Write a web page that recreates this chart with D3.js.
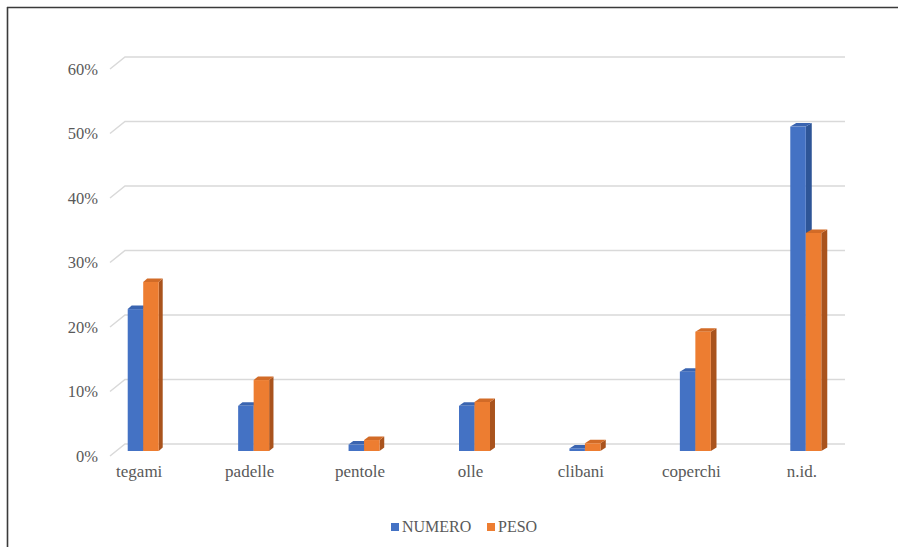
<!DOCTYPE html>
<html>
<head>
<meta charset="utf-8">
<script src="https://cdn.jsdelivr.net/npm/d3@7"></script>
<style>
  html, body { margin: 0; padding: 0; background: #fff; }
  svg { display: block; }
  text { font-family: 'Liberation Serif', 'Times New Roman', Times, 'DejaVu Serif', serif; }
</style>
</head>
<body>
<svg id="chart" width="898" height="547"></svg>
<script>
const categories = ["tegami", "padelle", "pentole", "olle", "clibani", "coperchi", "n.id."];
const seriesNames = ["NUMERO", "PESO"];
const numero = [0.22, 0.07, 0.01, 0.07, 0.004, 0.123, 0.503];
const peso = [0.262, 0.11, 0.017, 0.076, 0.012, 0.185, 0.338];
const yTicks = [0, 0.1, 0.2, 0.3, 0.4, 0.5, 0.6];

const colors = {
  NUMERO: { front: "#4472C4", side: "#2E5597", top: "#3A64B0" },
  PESO:   { front: "#ED7D31", side: "#A9531D", top: "#D26B27" }
};

const svg = d3.select("#chart");
const W = 898, H = 547;
svg.append("rect").attr("width", W).attr("height", H).attr("fill", "#fff");

// frame (top + left)
svg.append("line").attr("x1", 7).attr("x2", W).attr("y1", 7.5).attr("y2", 7.5)
  .attr("stroke", "#3a3a3a").attr("stroke-width", 1.6);
svg.append("line").attr("x1", 7.5).attr("x2", 7.5).attr("y1", 7).attr("y2", H)
  .attr("stroke", "#3a3a3a").attr("stroke-width", 1.6);

// scales
const y = d3.scaleLinear().domain([0, 0.6]).range([444, 57]);  // back wall
const depthFront = 12, frontDX = 15;   // floor depth
const barDepth = 7;                    // bars sit between back and front
const x = d3.scaleBand().domain(categories).range([88, 861]).padding(0);
const xs = d3.scaleBand().domain(seriesNames).range([-15.5, 15.5]);

const gridX0 = 125, gridX1 = 845;
const grid = svg.append("g");
yTicks.forEach(t => {
  const yy = y(t);
  grid.append("path")
    .attr("d", `M${gridX0 - frontDX},${yy + depthFront} L${gridX0},${yy} L${gridX1},${yy}`)
    .attr("fill", "none").attr("stroke", "#d9d9d9").attr("stroke-width", 1.5);
});

// y tick labels
const yAxisG = svg.append("g");
yTicks.forEach(t => {
  yAxisG.append("text")
    .attr("x", 98).attr("y", y(t) + depthFront + 5.5)
    .attr("text-anchor", "end")
    .attr("font-size", "16.5px").attr("fill", "#595959")
    .text(d3.format(".0%")(t));
});

// bars
const barsG = svg.append("g");
const data = categories.map((c, i) => ({ cat: c, i, vals: [numero[i], peso[i]] }));
data.forEach(d => {
  const dx = 4 + d.i * 0.33, dy = 3.5;
  seriesNames.forEach((s, k) => {
    const v = d.vals[k];
    const x0 = x(d.cat) + x.bandwidth() / 2 + xs(s);
    const w = xs.bandwidth();
    const base = y(0) + barDepth;
    const top = y(v) + barDepth;
    const c = colors[s];
    const g = barsG.append("g");
    g.append("path")
      .attr("d", `M${x0 + w},${top} L${x0 + w + dx},${top - dy} L${x0 + w + dx},${base - dy} L${x0 + w},${base} Z`)
      .attr("fill", c.side);
    g.append("path")
      .attr("d", `M${x0},${top} L${x0 + dx},${top - dy} L${x0 + w + dx},${top - dy} L${x0 + w},${top} Z`)
      .attr("fill", c.top);
    g.append("rect")
      .attr("x", x0).attr("y", top).attr("width", w).attr("height", base - top)
      .attr("fill", c.front);
  });
});

// category labels
const xAxisG = svg.append("g");
categories.forEach(c => {
  xAxisG.append("text")
    .attr("x", x(c) + x.bandwidth() / 2 - 4).attr("y", 477)
    .attr("text-anchor", "middle")
    .attr("font-size", "17px").attr("fill", "#595959")
    .text(c);
});

// legend
const legend = svg.append("g");
const legendPos = [391, 487];
seriesNames.forEach((s, k) => {
  legend.append("rect")
    .attr("x", legendPos[k]).attr("y", 523).attr("width", 8).attr("height", 8)
    .attr("fill", colors[s].front);
  legend.append("text")
    .attr("x", legendPos[k] + 11).attr("y", 532)
    .attr("font-size", "16px").attr("fill", "#595959")
    .text(s);
});
</script>
</body>
</html>
